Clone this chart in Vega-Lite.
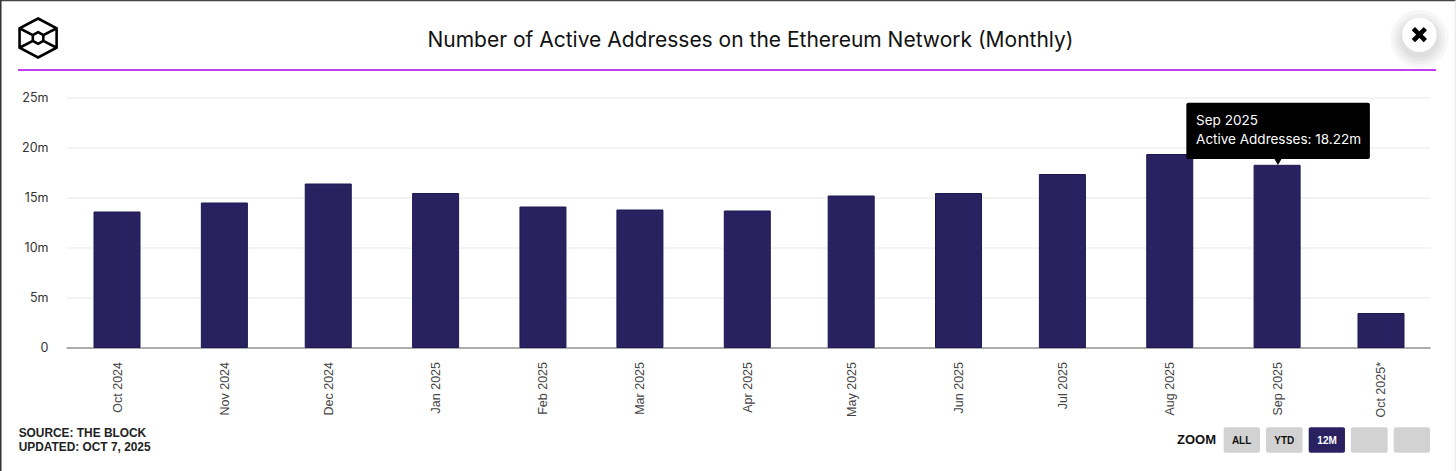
{
"$schema":"https://vega.github.io/schema/vega-lite/v6.json",
"width":1364,"height":250,
"autosize":{"type":"none"},
"padding":{"left":66,"top":97.5,"right":26,"bottom":123.5},
"background":"white",
"config":{"view":{"stroke":null}},
"datasets":{
"months":[
{"month":"2024-10-01T00:00:00Z","active":13.55},
{"month":"2024-11-01T00:00:00Z","active":14.45},
{"month":"2024-12-01T00:00:00Z","active":16.35},
{"month":"2025-01-01T00:00:00Z","active":15.4},
{"month":"2025-02-01T00:00:00Z","active":14.05},
{"month":"2025-03-01T00:00:00Z","active":13.75},
{"month":"2025-04-01T00:00:00Z","active":13.65},
{"month":"2025-05-01T00:00:00Z","active":15.15},
{"month":"2025-06-01T00:00:00Z","active":15.4},
{"month":"2025-07-01T00:00:00Z","active":17.3},
{"month":"2025-08-01T00:00:00Z","active":19.3},
{"month":"2025-09-01T00:00:00Z","active":18.22},
{"month":"2025-10-01T00:00:00Z","active":3.4}
],
"buttons":[
{"name":"ALL","a":"2025-08-16T13:40:00Z","b":"2025-08-27T01:30:00Z","c":"2025-08-21T18:00:00Z","on":"n","t":-7.98,"u":-10.52,"v":-9.3},
{"name":"YTD","a":"2025-08-28T19:00:00Z","b":"2025-09-08T08:00:00Z","c":"2025-09-03T01:30:00Z","on":"n","t":-7.98,"u":-10.52,"v":-9.3},
{"name":"12M","a":"2025-09-10T03:00:00Z","b":"2025-09-20T14:24:00Z","c":"2025-09-15T10:00:00Z","on":"y","t":-7.98,"u":-10.52,"v":-9.3},
{"name":"","a":"2025-09-22T07:00:00Z","b":"2025-10-02T22:00:00Z","c":"2025-09-27T14:00:00Z","on":"n","t":-7.98,"u":-10.52,"v":-9.3},
{"name":"","a":"2025-10-04T16:00:00Z","b":"2025-10-15T03:36:00Z","c":"2025-10-09T22:00:00Z","on":"n","t":-7.98,"u":-10.52,"v":-9.3}
]
},
"encoding":{},
"layer":[
{"data":{"name":"months"},"mark":{"type":"bar","size":46,"stroke":"#1d1850","strokeWidth":1,"fill":"#2a2260"},
 "encoding":{
  "x":{"field":"month","type":"temporal","scale":{"type":"utc","nice":false,"padding":0,"domain":["2024-09-16T06:30:00Z","2025-10-15T03:36:00Z"]},
   "axis":{"title":null,"tickCount":"month","format":"%b %Y","labelExpr":"datum.label === 'Oct 2025' ? 'Oct 2025*' : datum.label","labelAngle":-90,"labelAlign":"right","labelBaseline":"middle","labelFont":"Liberation Sans","labelFontSize":12.5,"labelColor":"#444","labelPadding":14,"labelOverlap":false,"labelBound":false,"labelFlush":false,"ticks":false,"grid":false,"domainColor":"#666","domainWidth":1.2}},
  "y":{"field":"active","type":"quantitative","scale":{"domain":[0,25],"nice":false},
   "axis":{"title":null,"values":[0,5,10,15,20,25],"labelExpr":"datum.value === 0 ? '0' : datum.value + 'm'","labelFont":"Inter","labelFontSize":12.5,"labelColor":"#333","labelPadding":18,"ticks":false,"domain":false,"grid":true,"gridColor":"#e8e8e8","gridWidth":1}}
 }},
{"data":{"values":[{"a":"2025-04-01T22:00:00Z","v":30.68,"t":"Number of Active Addresses on the Ethereum Network (Monthly)"}]},"mark":{"type":"text","align":"center","baseline":"middle","font":"Inter","fontSize":21,"fontWeight":400,"color":"#111"},
 "encoding":{"x":{"field":"a","type":"temporal"},"y":{"field":"v","type":"quantitative"},"text":{"field":"t"}}},
{"data":{"values":[{"a":"2024-09-02T10:00:00Z","b":"2025-10-16T21:36:00Z","v":27.75}]},"mark":{"type":"rule","color":"#c13ef0","strokeWidth":2},
 "encoding":{"x":{"field":"a","type":"temporal"},"x2":{"field":"b"},"y":{"field":"v","type":"quantitative"}}},
{"data":{"values":[{"a":"2024-08-28T08:38:00Z","b":"2025-10-22T12:00:00Z","v":34.72}]},"mark":{"type":"rule","color":"#444","strokeWidth":2},
 "encoding":{"x":{"field":"a","type":"temporal"},"x2":{"field":"b"},"y":{"field":"v","type":"quantitative"}}},
{"data":{"values":[{"a":"2024-08-28T08:38:00Z","t":34.75,"b":-12.4}]},"mark":{"type":"rule","color":"#333","strokeWidth":2},
 "encoding":{"x":{"field":"a","type":"temporal"},"y":{"field":"t","type":"quantitative"},"y2":{"field":"b"}}},
{"data":{"values":[{"a":"2025-10-22T12:00:00Z","t":34.6,"b":-12.4}]},"mark":{"type":"rule","color":"#eeeeee","strokeWidth":2},
 "encoding":{"x":{"field":"a","type":"temporal"},"y":{"field":"t","type":"quantitative"},"y2":{"field":"b"}}},
{"data":{"values":[{"a":"2024-09-08T05:00:00Z","v":30.95}]},"mark":{"type":"point","shape":"M0 -1 L.95 -.5 L.95 .5 L0 1 L-.95 .5 L-.95 -.5 Z M0 -.3 L.27 -.15 L.27 .15 L0 .3 L-.27 .15 L-.27 -.15 Z M-.95 -.5 L-.27 -.15 M.95 -.5 L.27 -.15 M-.95 .5 L-.27 .15 M.95 .5 L.27 .15","size":1521,"stroke":"#000","strokeWidth":2.6,"fill":null,"opacity":1},
 "encoding":{"x":{"field":"a","type":"temporal"},"y":{"field":"v","type":"quantitative"}}},
{"data":{"values":[{"a":"2025-10-12T02:00:00Z","v":30.85,"r":3400},{"a":"2025-10-12T02:00:00Z","v":30.85,"r":2600},{"a":"2025-10-12T02:00:00Z","v":30.85,"r":2000},{"a":"2025-10-12T02:00:00Z","v":30.85,"r":1500}]},"mark":{"type":"point","shape":"circle","filled":true,"fill":"#000","opacity":0.03},
 "encoding":{"x":{"field":"a","type":"temporal"},"y":{"field":"v","type":"quantitative"},"size":{"field":"r","type":"quantitative","scale":null,"legend":null}}},
{"data":{"values":[{"a":"2025-10-12T02:00:00Z","v":31.28}]},"mark":{"type":"point","shape":"circle","filled":true,"fill":"#fff","size":1197,"opacity":1},
 "encoding":{"x":{"field":"a","type":"temporal"},"y":{"field":"v","type":"quantitative"}}},
{"data":{"values":[{"a":"2025-10-12T02:00:00Z","v":31.28}]},"mark":{"type":"point","shape":"M-1 -1 L1 1 M-1 1 L1 -1","size":144,"stroke":"#000","strokeWidth":4.6,"fill":null,"opacity":1},
 "encoding":{"x":{"field":"a","type":"temporal"},"y":{"field":"v","type":"quantitative"}}},
{"data":{"values":[{"a":"2025-08-05T19:00:00Z","b":"2025-09-27T19:00:00Z","t":24.48,"u":18.85}]},"mark":{"type":"rect","fill":"#000","cornerRadius":2},
 "encoding":{"x":{"field":"a","type":"temporal"},"x2":{"field":"b"},"y":{"field":"t","type":"quantitative"},"y2":{"field":"u"}}},
{"data":{"values":[{"a":"2025-09-01T06:00:00Z","v":18.7}]},"mark":{"type":"point","shape":"triangle-down","filled":true,"fill":"#000","size":110,"opacity":1},
 "encoding":{"x":{"field":"a","type":"temporal"},"y":{"field":"v","type":"quantitative"}}},
{"data":{"values":[{"a":"2025-08-08T14:24:00Z","v":22.68,"t":"Sep 2025"},{"a":"2025-08-08T14:24:00Z","v":20.75,"t":"Active Addresses: 18.22m"}]},"mark":{"type":"text","align":"left","baseline":"middle","font":"Inter","fontSize":13.5,"color":"#fff"},
 "encoding":{"x":{"field":"a","type":"temporal"},"y":{"field":"v","type":"quantitative"},"text":{"field":"t"}}},
{"data":{"values":[{"a":"2024-09-02T14:24:00Z","v":-8.55,"t":"SOURCE: THE BLOCK"},{"a":"2024-09-02T14:24:00Z","v":-9.95,"t":"UPDATED: OCT 7, 2025"}]},"mark":{"type":"text","align":"left","baseline":"middle","font":"Liberation Sans","fontWeight":"bold","fontSize":11.9,"color":"#222"},
 "encoding":{"x":{"field":"a","type":"temporal"},"y":{"field":"v","type":"quantitative"},"text":{"field":"t"}}},
{"data":{"values":[{"a":"2025-08-03T02:30:00Z","v":-9.22,"t":"ZOOM"}]},"mark":{"type":"text","align":"left","baseline":"middle","font":"Liberation Sans","fontWeight":"bold","fontSize":13,"color":"#111"},
 "encoding":{"x":{"field":"a","type":"temporal"},"y":{"field":"v","type":"quantitative"},"text":{"field":"t"}}},
{"data":{"name":"buttons"},"mark":{"type":"rect","cornerRadius":2},
 "encoding":{"x":{"field":"a","type":"temporal"},"x2":{"field":"b"},"y":{"field":"t","type":"quantitative"},"y2":{"field":"u"},"fill":{"field":"on","type":"nominal","scale":{"domain":["n","y"],"range":["#d2d2d2","#2a2260"]},"legend":null}}},
{"data":{"name":"buttons"},"mark":{"type":"text","align":"center","baseline":"middle","font":"Liberation Sans","fontWeight":"bold","fontSize":10},
 "encoding":{"x":{"field":"c","type":"temporal"},"y":{"field":"v","type":"quantitative"},"text":{"field":"name"},"color":{"field":"on","type":"nominal","scale":{"domain":["n","y"],"range":["#111111","#ffffff"]},"legend":null}}}
],
"resolve":{"scale":{"color":"independent"}}
}
